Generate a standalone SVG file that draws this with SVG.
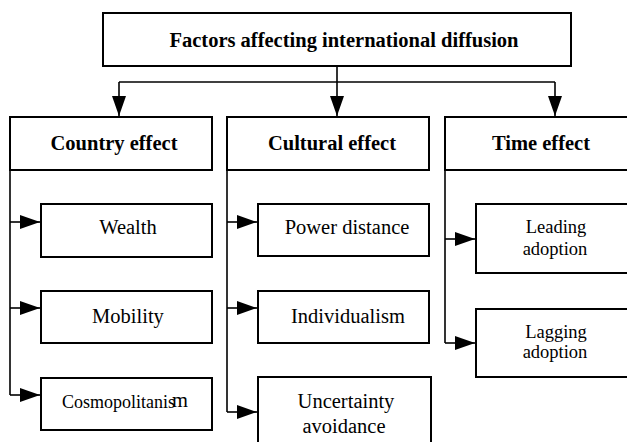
<svg xmlns="http://www.w3.org/2000/svg" width="627" height="442" viewBox="0 0 627 442">
<defs>
<style>
.box{fill:#fff;stroke:#000;stroke-width:2}
.con{fill:none;stroke:#000;stroke-width:1.6}
text{font-family:'Liberation Serif','Times New Roman','DejaVu Serif',serif;fill:#000;text-anchor:middle}
.h{font-weight:bold;font-size:20.5px}
.t{font-size:20.5px}
.s{font-size:18.5px}
</style>
<marker id="arr" viewBox="0 0 20 14" refX="20" refY="7" markerWidth="20" markerHeight="14" markerUnits="userSpaceOnUse" orient="auto">
<path d="M0,0 L20,7 L0,14 Z" fill="#000"/>
</marker>
</defs>
<g id="connectors">
<path class="con" d="M337,66 V116" marker-end="url(#arr)"/>
<path class="con" d="M119,82 H555"/>
<path class="con" d="M119,82 V116" marker-end="url(#arr)"/>
<path class="con" d="M555,82 V116" marker-end="url(#arr)"/>
<path class="con" d="M10,170 V395"/>
<path class="con" d="M10,222 H40" marker-end="url(#arr)"/>
<path class="con" d="M10,308 H40" marker-end="url(#arr)"/>
<path class="con" d="M10,395 H40" marker-end="url(#arr)"/>
<path class="con" d="M227,170 V412"/>
<path class="con" d="M227,222 H257" marker-end="url(#arr)"/>
<path class="con" d="M227,308 H257" marker-end="url(#arr)"/>
<path class="con" d="M227,412 H257" marker-end="url(#arr)"/>
<path class="con" d="M445,170 V343"/>
<path class="con" d="M445,239 H475" marker-end="url(#arr)"/>
<path class="con" d="M445,343 H475" marker-end="url(#arr)"/>
</g>
<g id="root"><rect class="box" x="103" y="13" width="468" height="53"/><text class="h" x="344" y="47" font-family="Liberation Serif, serif">Factors affecting international diffusion</text></g>
<g id="country"><rect class="box" x="10" y="117" width="202" height="53"/><text class="h" x="114" y="150">Country effect</text></g>
<g id="cultural"><rect class="box" x="227" y="117" width="202" height="53"/><text class="h" x="332" y="150">Cultural effect</text></g>
<g id="time"><rect class="box" x="445" y="117" width="200" height="53"/><text class="h" x="541" y="150">Time effect</text></g>
<g id="wealth"><rect class="box" x="41" y="204" width="171" height="53"/><text class="t" x="128" y="234">Wealth</text></g>
<g id="mobility"><rect class="box" x="41" y="291" width="171" height="52"/><text class="t" x="128" y="323">Mobility</text></g>
<g id="cosmo"><rect class="box" x="41" y="378" width="171" height="52"/><text class="s" x="125" y="408" style="font-size:18px">Cosmopolitanis<tspan dx="-3" dy="-1" style="font-size:20.5px">m</tspan></text></g>
<g id="power"><rect class="box" x="258" y="204" width="171" height="52"/><text class="t" x="347" y="234">Power distance</text></g>
<g id="indiv"><rect class="box" x="258" y="291" width="171" height="52"/><text class="t" x="348" y="323">Individualism</text></g>
<g id="uncert"><rect class="box" x="258" y="377" width="173" height="80"/><text class="t" x="346" y="408">Uncertainty</text><text class="t" x="344" y="433">avoidance</text></g>
<g id="leading"><rect class="box" x="476" y="204" width="170" height="69"/><text class="s" x="556" y="233">Leading</text><text class="s" x="555" y="255">adoption</text></g>
<g id="lagging"><rect class="box" x="476" y="309" width="170" height="68"/><text class="s" x="556" y="338">Lagging</text><text class="s" x="555" y="358">adoption</text></g>
</svg>
